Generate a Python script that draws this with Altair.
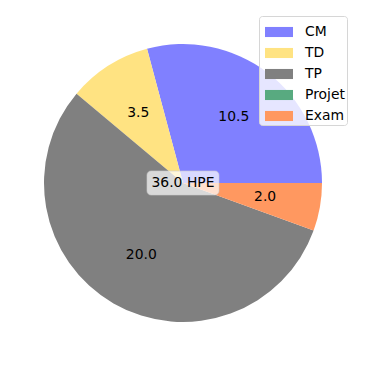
import math
import altair as alt
import pandas as pd

labels = ["CM", "TD", "TP", "Projet", "Exam"]
hours = [10.5, 3.5, 20.0, 0.0, 2.0]
colors = ["#8080ff", "#ffe382", "#808080", "#58aa80", "#ff9860"]
total_label = "36.0 HPE"

n = len(labels)
df = pd.DataFrame({
    "label": labels,
    "hours": hours,
    "rank": [(-i) % n for i in range(n)],
    "txt": [f"{h:.1f}" for h in hours],
})

start = -15 * math.pi / 180
theta_scale = alt.Scale(range=[start, start + 2 * math.pi])
R = 139
FONT = "DejaVu Sans"

base = alt.Chart(df)

arcs = base.mark_arc(outerRadius=R).encode(
    theta=alt.Theta("hours:Q", stack=True, scale=theta_scale),
    order=alt.Order("rank:Q"),
    color=alt.Color(
        "label:N",
        scale=alt.Scale(domain=labels, range=colors),
        sort=labels,
        legend=alt.Legend(
            title=None,
            orient="none",
            legendX=259,
            legendY=16,
            symbolType="M-1,-0.36L1,-0.36L1,0.36L-1,0.36Z",
            symbolSize=784,
            symbolStrokeWidth=0,
            symbolOpacity=1,
            symbolOffset=4,
            labelFont=FONT,
            labelFontSize=13.9,
            labelColor="#000000",
            labelOffset=12,
            rowPadding=0,
            padding=2,
            strokeColor="#d6d6d6",
            fillColor="rgba(255,255,255,0.8)",
            cornerRadius=3,
        ),
    ),
)

texts = base.transform_filter("datum.hours > 0").mark_text(
    radius=R * 0.6, font=FONT, fontSize=13.9, color="black"
).encode(
    theta=alt.Theta("hours:Q", stack=True, scale=theta_scale),
    order=alt.Order("rank:Q"),
    text="txt:N",
)

center_df = pd.DataFrame({"t": [total_label]})
box = alt.Chart(center_df).mark_rect(
    cornerRadius=4, fill="white", fillOpacity=0.7, stroke="#cccccc", strokeOpacity=0.6
).encode(
    x=alt.value(147), x2=alt.value(219), y=alt.value(171), y2=alt.value(195)
)
center = alt.Chart(center_df).mark_text(
    font=FONT, fontSize=13.9, color="black"
).encode(x=alt.value(183), y=alt.value(183), text="t:N")

chart = alt.layer(arcs, texts, box, center).properties(
    width=366, height=366, padding=0, autosize=alt.AutoSizeParams(type="none")
).configure_view(stroke=None)

chart.save("out.html", embed_options={"renderer": "svg", "actions": False})
